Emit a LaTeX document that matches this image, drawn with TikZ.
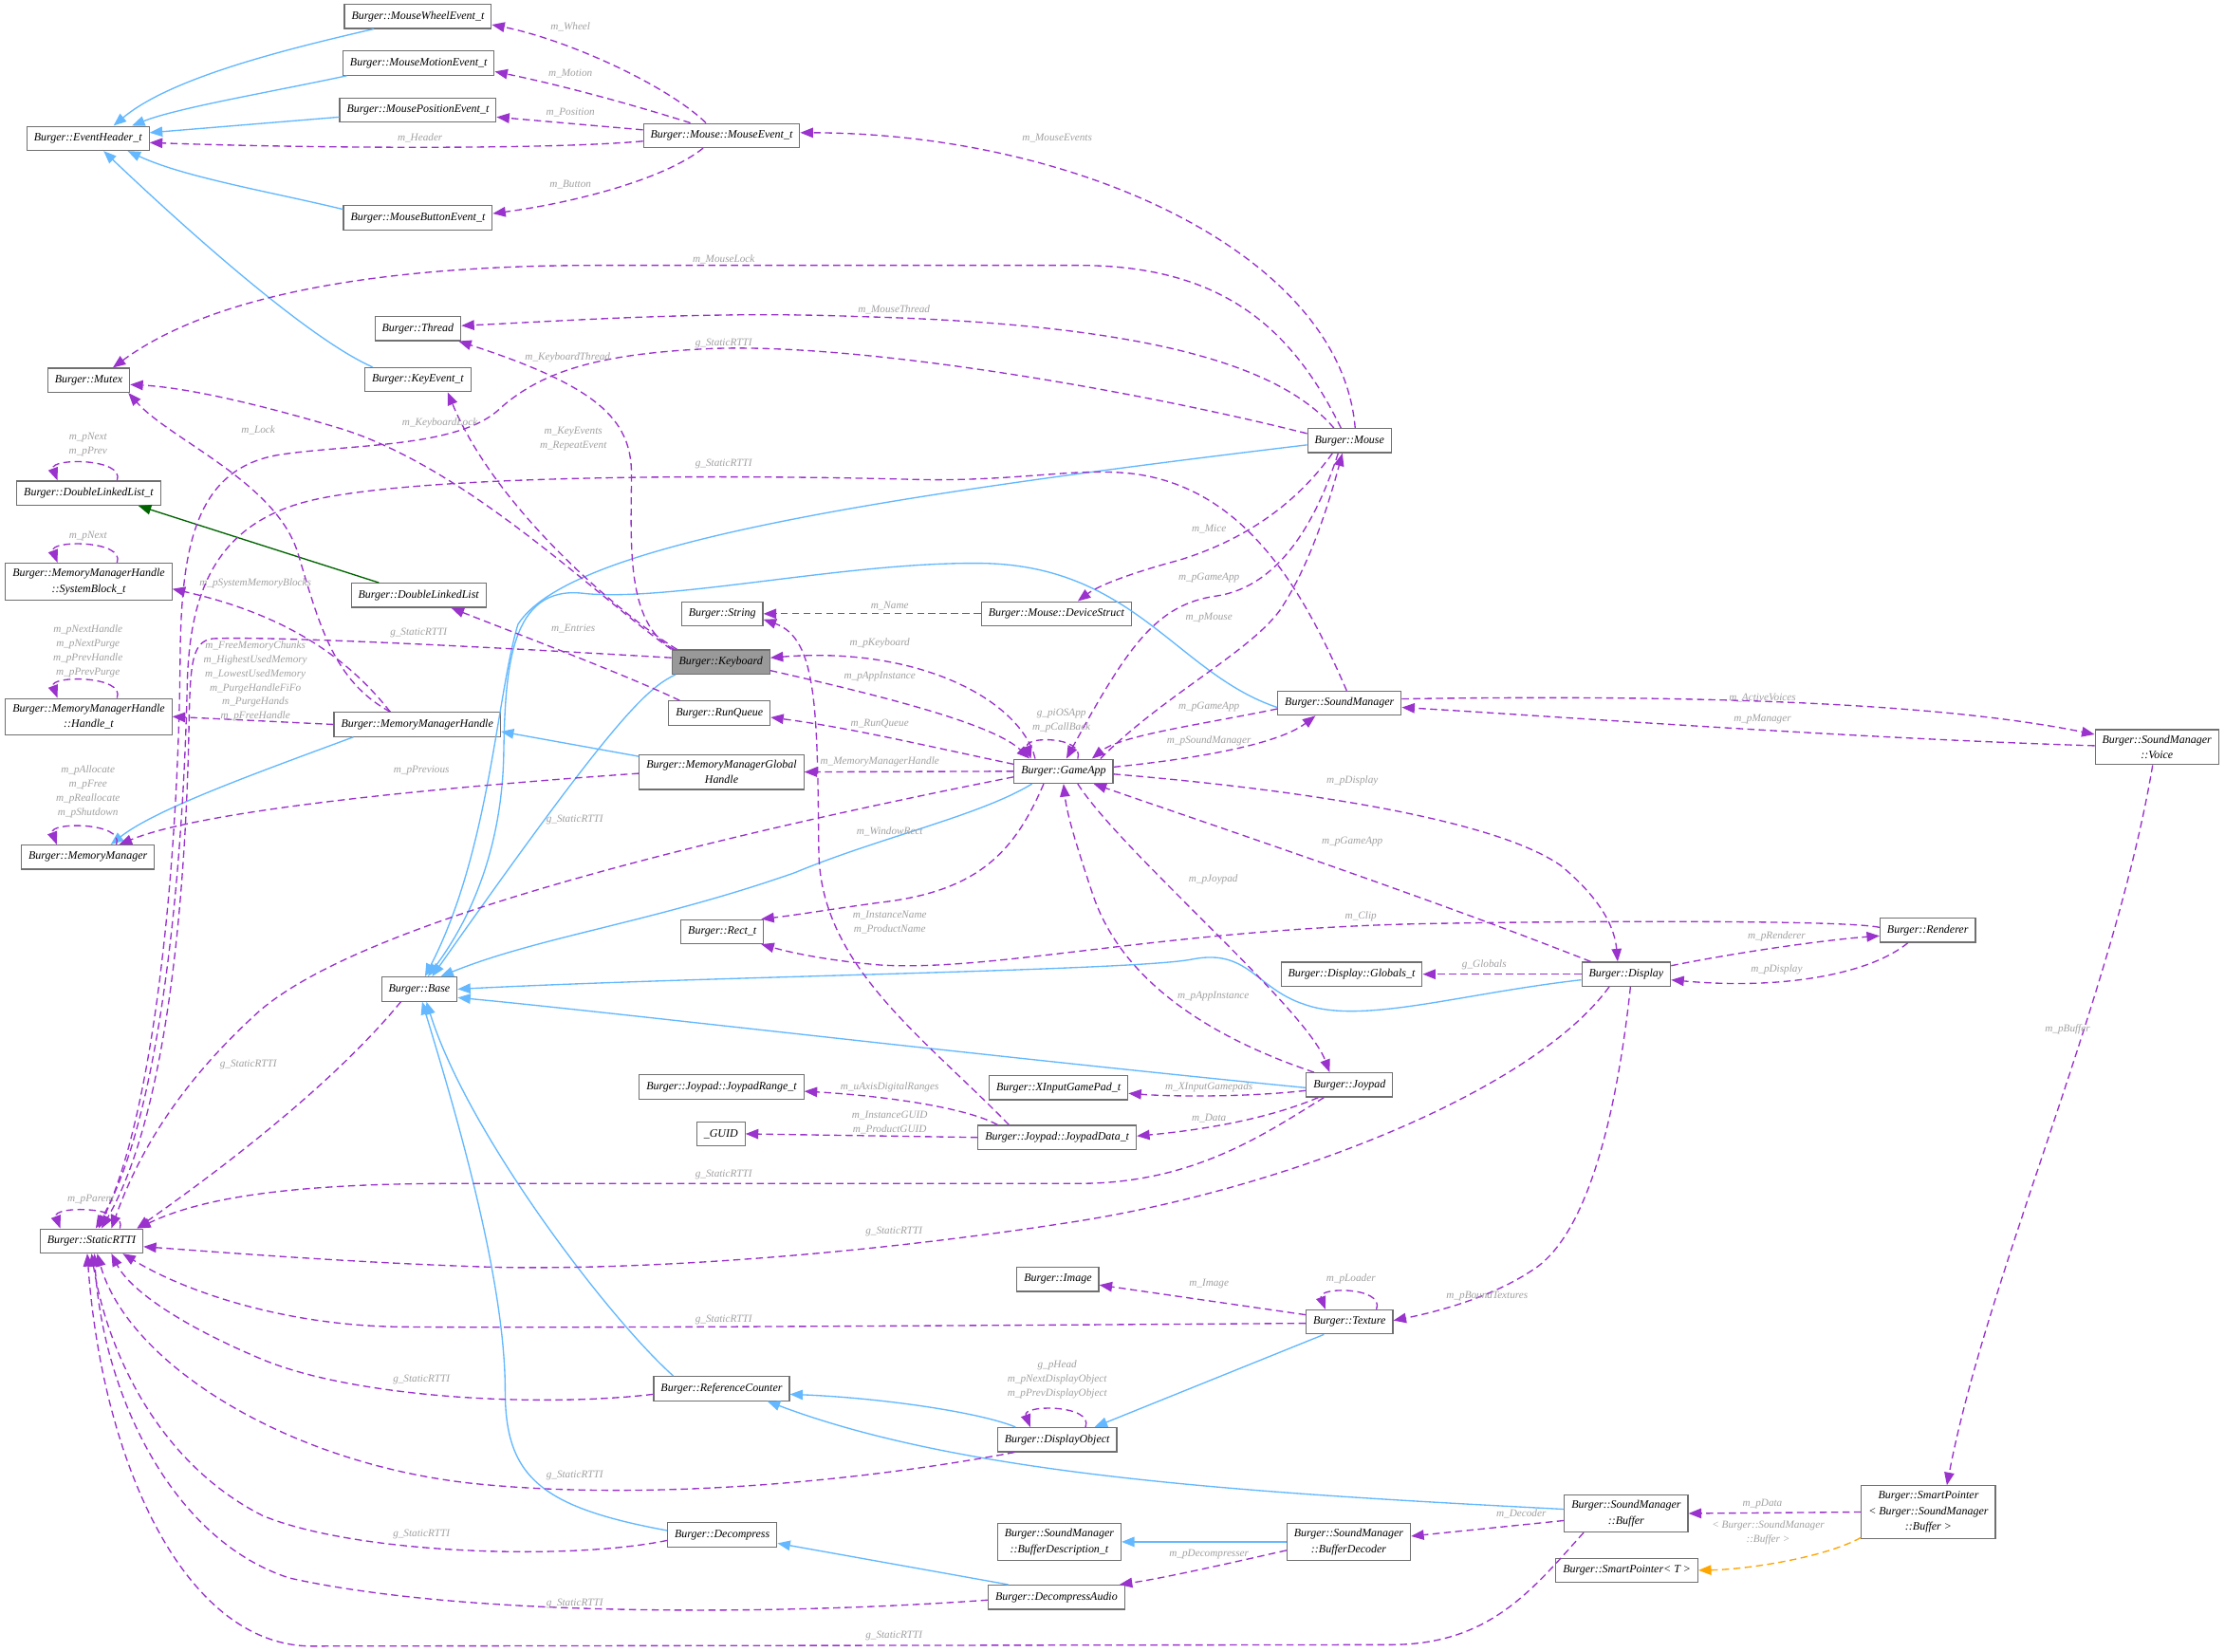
\documentclass[tikz,border=0pt]{standalone}
\usepackage{fontspec}
\newfontfamily\dxfont{Liberation Serif}
\usetikzlibrary{arrows.meta}

\definecolor{depcol}{HTML}{9A32CD}
\definecolor{inhcol}{HTML}{63B8FF}
\definecolor{tplcol}{HTML}{FFA500}
\definecolor{pubcol}{HTML}{006400}
\definecolor{boxgray}{HTML}{707070}
\definecolor{kbgray}{HTML}{999999}
\definecolor{lblgray}{HTML}{A0A0A0}
\newcommand{\clsfont}{\dxfont\itshape\fontsize{8}{11}\selectfont}
\newcommand{\edgefont}{\dxfont\itshape\fontsize{7.5}{10}\selectfont}

\tikzset{
  cls/.style={draw=boxgray, line width=0.8pt, fill=white, font=\clsfont,
    inner xsep=5pt, inner ysep=4pt, minimum height=17pt, align=center},
  dep/.style={draw=depcol, line width=0.9pt, dash pattern=on 5pt off 3pt,
    -{Triangle[length=9pt,width=7pt]}},
  inh/.style={draw=inhcol, line width=0.9pt, -{Triangle[length=9pt,width=7pt]}},
  pub/.style={draw=pubcol, line width=0.9pt, -{Triangle[length=9pt,width=7pt]}},
  tpl/.style={draw=tplcol, line width=0.9pt, dash pattern=on 5pt off 3pt,
    -{Triangle[length=9pt,width=7pt]}},
  lbl/.style={text=lblgray, font=\edgefont, align=center, inner sep=0pt},
}

\begin{document}
\begin{tikzpicture}[x=1pt, y=-1pt]
\useasboundingbox (0,0) rectangle (1568,1164);

% classes
\node[cls] (evh) at (62,97.5) {Burger::EventHeader\_t};
\node[cls] (mwe) at (294.5,11.5) {Burger::MouseWheelEvent\_t};
\node[cls] (mme) at (295,44.5) {Burger::MouseMotionEvent\_t};
\node[cls] (mpe) at (294.5,77.5) {Burger::MousePositionEvent\_t};
\node[cls] (mbe) at (294.5,153.5) {Burger::MouseButtonEvent\_t};
\node[cls] (mev) at (508.5,95.5) {Burger::Mouse::MouseEvent\_t};
\node[cls] (thread) at (294.5,231.5) {Burger::Thread};
\node[cls] (mutex) at (62.5,268) {Burger::Mutex};
\node[cls] (keyev) at (294.5,267.5) {Burger::KeyEvent\_t};
\node[cls] (dllt) at (62.5,347.5) {Burger::DoubleLinkedList\_t};
\node[cls] (sysblk) at (62.5,410) {Burger::MemoryManagerHandle\\::SystemBlock\_t};
\node[cls] (dll) at (295,419.5) {Burger::DoubleLinkedList};
\node[cls] (handle) at (62.5,505) {Burger::MemoryManagerHandle\\::Handle\_t};
\node[cls] (mmh) at (294,510.5) {Burger::MemoryManagerHandle};
\node[cls] (mm) at (62,604) {Burger::MemoryManager};
\node[cls] (string) at (509,432.5) {Burger::String};
\node[cls, fill=kbgray] (keyboard) at (508,466.5) {Burger::Keyboard};
\node[cls] (runq) at (507,502.5) {Burger::RunQueue};
\node[cls] (mmgh) at (508.5,544) {Burger::MemoryManagerGlobal\\Handle};
\node[cls] (devs) at (744.5,432.5) {Burger::Mouse::DeviceStruct};
\node[cls] (gameapp) at (749.5,543.5) {Burger::GameApp};
\node[cls] (mouse) at (951,310.5) {Burger::Mouse};
\node[cls] (sound) at (944,495.5) {Burger::SoundManager};
\node[cls] (voice) at (1520,526.5) {Burger::SoundManager\\::Voice};
\node[cls] (rect) at (509,656.5) {Burger::Rect\_t};
\node[cls] (base) at (295.5,697) {Burger::Base};
\node[cls] (globals) at (952.5,686.5) {Burger::Display::Globals\_t};
\node[cls] (display) at (1146,686.5) {Burger::Display};
\node[cls] (renderer) at (1358.5,655.5) {Burger::Renderer};
\node[cls] (jrange) at (508.5,766) {Burger::Joypad::JoypadRange\_t};
\node[cls] (xinput) at (746,766.5) {Burger::XInputGamePad\_t};
\node[cls] (joypad) at (951,764.5) {Burger::Joypad};
\node[cls] (guid) at (508,799) {\_GUID};
\node[cls] (jdata) at (745,801.5) {Burger::Joypad::JoypadData\_t};
\node[cls] (rtti) at (64.5,874.5) {Burger::StaticRTTI};
\node[cls] (image) at (745.5,901.5) {Burger::Image};
\node[cls] (texture) at (951,931.5) {Burger::Texture};
\node[cls] (refc) at (508.5,978.5) {Burger::ReferenceCounter};
\node[cls] (dispobj) at (745,1014.5) {Burger::DisplayObject};
\node[cls] (buffer) at (1146,1066.5) {Burger::SoundManager\\::Buffer};
\node[cls] (sptr) at (1359,1065.5) {Burger::SmartPointer\\< Burger::SoundManager\\::Buffer >};
\node[cls] (bufdesc) at (746.5,1086.5) {Burger::SoundManager\\::BufferDescription\_t};
\node[cls] (bufdec) at (950.5,1086.5) {Burger::SoundManager\\::BufferDecoder};
\node[cls] (decomp) at (509,1081.5) {Burger::Decompress};
\node[cls] (decaudio) at (744.5,1125.5) {Burger::DecompressAudio};
\node[cls] (sptrt) at (1146.5,1106.5) {Burger::SmartPointer< T >};

% base classes
\draw[inh] ([xshift=-31pt]mwe.south) .. controls (200,35) and (120,55) .. ([xshift=18pt]evh.north);
\draw[inh] ([xshift=3pt]mme.south west) .. controls (190,65) and (125,76) .. ([xshift=31pt]evh.north);
\draw[inh] ([yshift=-5pt]mpe.west) -- ([yshift=4pt]evh.east);
\draw[inh] ([yshift=6pt]mbe.west) .. controls (190,135) and (130,125) .. ([xshift=28pt]evh.south);
\draw[inh] ([xshift=-32pt]keyev.north) .. controls (220,240) and (140,170) .. ([xshift=11pt]evh.south);
\draw[pub] ([xshift=-28pt]dll.north) -- ([xshift=35pt]dllt.south);
\draw[inh] ([yshift=11pt]mmgh.west) -- ([yshift=-5pt]mmh.east);
\draw[inh] ([xshift=-45pt]mmh.south) .. controls (180,545) and (110,570) .. ([xshift=16pt]mm.north);
\draw[inh] ([yshift=-3pt]mouse.west) .. controls (600,352) and (400,385) .. (365,440) .. controls (350,490) and (345,600) .. ([xshift=4pt]base.north);
\draw[inh] ([yshift=-3pt]sound.west) .. controls (830,475) and (800,400) .. (695,397) .. controls (600,395) and (470,425) .. (410,418) .. controls (360,413) and (356,470) .. (355,530) .. controls (354,600) and (330,650) .. ([xshift=6pt]base.north);
\draw[inh] ([xshift=3pt]keyboard.south west) .. controls (455,485) and (430,510) .. ([xshift=9pt]base.north);
\draw[inh] ([xshift=13pt]gameapp.south west) .. controls (690,575) and (620,590) .. (560,615) .. controls (460,650) and (380,660) .. ([xshift=-12pt]base.north east);
\draw[inh] ([yshift=-4pt]display.west) .. controls (1030,700) and (960,722) .. (920,708) .. controls (885,697) and (880,668) .. (840,676) .. controls (800,684) and (500,688) .. (base.east);
\draw[inh] ([yshift=-2pt]joypad.west) .. controls (700,745) and (420,712) .. ([yshift=-6pt]base.east);
\draw[inh] ([xshift=-34pt]refc.north) .. controls (430,930) and (330,800) .. ([xshift=5pt]base.south);
\draw[inh] ([yshift=3pt]decomp.west) .. controls (380,1062) and (356,1040) .. (356,980) .. controls (356,900) and (320,780) .. ([xshift=2pt]base.south);
\draw[inh] ([xshift=-18pt]texture.south) -- ([xshift=-16pt]dispobj.north east);
\draw[inh] ([xshift=13pt]dispobj.north west) .. controls (690,995) and (620,985) .. ([yshift=-4pt]refc.east);
\draw[inh] ([yshift=3pt]buffer.west) .. controls (880,1052) and (680,1040) .. ([xshift=-16pt]refc.south east);
\draw[inh] ([xshift=-34pt]decaudio.north) -- ([yshift=-6pt]decomp.east);
\draw[inh] (bufdec.west) -- (bufdesc.east);
\draw[tpl] ([yshift=-18pt]sptr.west) .. controls (1285,1098) and (1230,1106) .. (sptrt.east);
\node[lbl] (lTpl) at (1246,1080) {< Burger::SoundManager\\::Buffer >};

% mouse events
\draw[dep] ([xshift=-11pt]mev.north) .. controls (470,60) and (400,28) .. ([yshift=3pt]mwe.south east);
\draw[dep] ([xshift=-22pt]mev.north) .. controls (440,72) and (395,60) .. ([yshift=3pt]mme.south east);
\draw[dep] ([yshift=4pt]mev.west) -- ([yshift=-5pt]mpe.east);
\draw[dep] ([yshift=-4pt]mev.west) .. controls (380,106) and (200,104) .. ([yshift=-3pt]evh.east);
\draw[dep] ([xshift=-13pt]mev.south) .. controls (470,125) and (410,142) .. ([yshift=3pt]mbe.east);
\node[lbl] (lWheel) at (402,19) {m\_Wheel};
\node[lbl] (lMotion) at (402,52) {m\_Motion};
\node[lbl] (lPosition) at (402,79) {m\_Position};
\node[lbl] (lHeader) at (296,97) {m\_Header};
\node[lbl] (lButton) at (402,130) {m\_Button};

% mouse
\draw[dep] ([xshift=4pt]mouse.north) .. controls (945,180) and (760,94) .. ([yshift=2pt]mev.east);
\draw[dep] ([xshift=-6pt]mouse.north) .. controls (910,230) and (860,187) .. (760,187) -- (420,187) .. controls (300,187) and (160,200) .. ([xshift=17pt]mutex.north);
\draw[dep] ([xshift=-11pt]mouse.north) .. controls (900,255) and (800,228) .. (603,223) .. controls (500,219) and (400,226) .. ([yshift=2pt]thread.east);
\draw[dep] ([yshift=5pt]mouse.west) .. controls (800,275) and (600,240) .. (494,246) .. controls (420,250) and (380,262) .. (350,290) .. controls (320,315) and (250,313) .. (200,320) .. controls (140,328) and (128,380) .. (127,460) .. controls (126,600) and (110,780) .. ([xshift=5pt]rtti.north);
\draw[dep] ([xshift=-12pt]mouse.south) .. controls (910,360) and (870,383) .. (830,395) .. controls (800,403) and (775,412) .. ([xshift=15pt]devs.north);
\draw[dep] ([xshift=-8pt]mouse.south) .. controls (930,360) and (905,413) .. (857,420) .. controls (815,426) and (795,455) .. ([xshift=2pt]gameapp.north);
\draw[dep] ([xshift=26pt]gameapp.north) .. controls (820,490) and (880,460) .. (902,430) .. controls (922,400) and (935,360) .. ([xshift=-5pt]mouse.south);
\draw[dep] (devs.west) -- (string.east);
\node[lbl] (lMouseEvents) at (745,97) {m\_MouseEvents};
\node[lbl] (lMouseLock) at (510,183) {m\_MouseLock};
\node[lbl] (lMouseThread) at (630,218) {m\_MouseThread};
\node[lbl] (lRttiMouse) at (510,242) {g\_StaticRTTI};
\node[lbl] (lMice) at (852,373) {m\_Mice};
\node[lbl] (lMouseApp) at (852,407) {m\_pGameApp};
\node[lbl] (lpMouse) at (852,435) {m\_pMouse};
\node[lbl] (lName) at (627,427) {m\_Name};

% keyboard
\draw[dep] ([xshift=4pt]keyboard.north west) .. controls (440,435) and (350,360) .. ([xshift=21pt]keyev.south);
\draw[dep] ([xshift=2pt]keyboard.north west) .. controls (440,440) and (445,380) .. (445,334) .. controls (445,295) and (420,272) .. ([xshift=-2pt]thread.south east);
\draw[dep] (keyboard.north west) .. controls (420,420) and (330,330) .. (240,302) .. controls (180,284) and (130,273) .. ([yshift=-3pt]mutex.east);
\draw[dep] ([yshift=3pt]keyboard.west) .. controls (380,458) and (200,448) .. (150,450) .. controls (134,452) and (134,470) .. (133,520) .. controls (130,650) and (115,790) .. ([xshift=7pt]rtti.north);
\draw[dep] ([xshift=-20pt]gameapp.north) .. controls (720,495) and (650,455) .. ([yshift=3pt]keyboard.east);
\draw[dep] ([yshift=-6pt]keyboard.east) .. controls (620,490) and (700,510) .. ([xshift=-24pt]gameapp.north);
\node[lbl] (lKbThread) at (400,252) {m\_KeyboardThread};
\node[lbl] (lKbLock) at (310,298) {m\_KeyboardLock};
\node[lbl] (lKeyEvents) at (404,309) {m\_KeyEvents\\m\_RepeatEvent};
\node[lbl] (lRttiKb) at (295,446) {g\_StaticRTTI};
\node[lbl] (lKeyboard) at (620,453) {m\_pKeyboard};
\node[lbl] (lKbApp) at (620,477) {m\_pAppInstance};

% memory
\draw[dep] ([xshift=-19pt]mmh.north) .. controls (235,480) and (225,440) .. (210,390) .. controls (195,340) and (120,310) .. ([xshift=28pt]mutex.south);
\draw[dep] ([xshift=-28pt]runq.north) .. controls (440,475) and (360,445) .. ([xshift=23pt]dll.south);
\draw[dep] ([xshift=-19pt]mmh.north) .. controls (250,470) and (210,435) .. ([yshift=-5pt]sysblk.east);
\draw[dep] (mmh.west) -- (handle.east);
\draw[dep] ([yshift=-1pt]mmgh.west) .. controls (350,552) and (150,568) .. ([xshift=22pt]mm.north);
\draw[dep] ([xshift=20pt]dllt.north) .. controls +(6,-16) and +(-6,-16) .. ([xshift=-22pt]dllt.north);
\draw[dep] ([xshift=20pt]sysblk.north) .. controls +(6,-16) and +(-6,-16) .. ([xshift=-22pt]sysblk.north);
\draw[dep] ([xshift=20pt]handle.north) .. controls +(6,-16) and +(-6,-16) .. ([xshift=-22pt]handle.north);
\draw[dep] ([xshift=20pt]mm.north) .. controls +(6,-16) and +(-6,-16) .. ([xshift=-22pt]mm.north);
\node[lbl] (lLock) at (182,303) {m\_Lock};
\node[lbl] (lEntries) at (404,443) {m\_Entries};
\node[lbl] (lSysBlocks) at (180,411) {m\_pSystemMemoryBlocks};
\node[lbl] (lChunks) at (180,480) {m\_FreeMemoryChunks\\m\_HighestUsedMemory\\m\_LowestUsedMemory\\m\_PurgeHandleFiFo\\m\_PurgeHands\\m\_pFreeHandle};
\node[lbl] (lPrevious) at (297,543) {m\_pPrevious};
\node[lbl] (lDllt) at (62,313) {m\_pNext\\m\_pPrev};
\node[lbl] (lSysNext) at (62,378) {m\_pNext};
\node[lbl] (lHandle) at (62,459) {m\_pNextHandle\\m\_pNextPurge\\m\_pPrevHandle\\m\_pPrevPurge};
\node[lbl] (lMM) at (62,558) {m\_pAllocate\\m\_pFree\\m\_pReallocate\\m\_pShutdown};

% game app
\draw[dep] ([xshift=10pt]gameapp.north) .. controls +(5,-16) and +(-5,-16) .. ([xshift=-23pt]gameapp.north);
\draw[dep] ([yshift=5pt]gameapp.west) .. controls (650,525) and (600,513) .. ([yshift=-3pt]runq.east);
\draw[dep] (gameapp.west) -- (mmgh.east);
\draw[dep] ([yshift=3pt]gameapp.east) .. controls (840,535) and (900,525) .. ([xshift=-17pt]sound.south);
\draw[dep] ([yshift=-4pt]sound.west) .. controls (850,510) and (790,518) .. ([xshift=20pt]gameapp.north);
\draw[dep] ([xshift=-14pt]gameapp.south) .. controls (715,600) and (690,628) .. (620,636) .. controls (590,640) and (560,645) .. ([xshift=-2pt]rect.north east);
\draw[dep] ([yshift=-2pt]gameapp.east) .. controls (900,555) and (1050,575) .. (1100,610) .. controls (1130,635) and (1138,655) .. ([xshift=-6pt]display.north);
\draw[dep] ([xshift=-25pt]display.north) .. controls (1000,630) and (850,580) .. ([xshift=-14pt]gameapp.south east);
\draw[dep] ([xshift=10pt]gameapp.south) .. controls (790,600) and (920,710) .. ([xshift=-14pt]joypad.north);
\draw[dep] ([xshift=-25pt]joypad.north) .. controls (850,730) and (790,690) .. (770,630) .. controls (760,600) and (752,575) .. (gameapp.south);
\node[lbl] (lIOSApp) at (748,508) {g\_piOSApp\\m\_pCallBack};
\node[lbl] (lRunQueue) at (620,510) {m\_RunQueue};
\node[lbl] (lMMHandle) at (620,537) {m\_MemoryManagerHandle};
\node[lbl] (lSoundApp) at (852,498) {m\_pGameApp};
\node[lbl] (lSoundMgr) at (852,522) {m\_pSoundManager};
\node[lbl] (lWindowRect) at (627,586) {m\_WindowRect};
\node[lbl] (lpDisplay) at (953,550) {m\_pDisplay};
\node[lbl] (lDispApp) at (953,593) {m\_pGameApp};
\node[lbl] (lJoypad) at (855,620) {m\_pJoypad};
\node[lbl] (lJoyApp) at (855,702) {m\_pAppInstance};

% sound
\draw[dep] ([yshift=3pt]sound.east) .. controls (1150,490) and (1350,492) .. ([yshift=9pt]voice.west);
\draw[dep] ([yshift=1pt]voice.west) .. controls (1300,520) and (1100,505) .. ([yshift=-3pt]sound.east);
\draw[dep] ([xshift=-3pt]voice.south) .. controls (1490,700) and (1400,900) .. ([xshift=13pt]sptr.north);
\draw[dep] (sptr.west) -- (buffer.east);
\draw[dep] ([yshift=-5pt]buffer.west) -- ([yshift=4pt]bufdec.east);
\draw[dep] ([yshift=-6pt]bufdec.west) .. controls (860,1103) and (820,1112) .. ([xshift=-4pt]decaudio.north east);
\draw[dep] ([xshift=5pt]sound.north) .. controls (920,420) and (880,345) .. (800,334) .. controls (760,329) and (720,339) .. (650,338) .. controls (500,334) and (300,335) .. (222,352) .. controls (150,368) and (134,420) .. (132,480) .. controls (129,620) and (112,790) .. ([xshift=3pt]rtti.north);
\node[lbl] (lRttiSound) at (510,327) {g\_StaticRTTI};
\node[lbl] (lVoices) at (1242,492) {m\_ActiveVoices};
\node[lbl] (lManager) at (1242,507) {m\_pManager};
\node[lbl] (lBuffer) at (1457,725) {m\_pBuffer};
\node[lbl] (lData) at (1242,1060) {m\_pData};
\node[lbl] (lDecoder) at (1072,1067) {m\_Decoder};
\node[lbl] (lDecompresser) at (852,1095) {m\_pDecompresser};

% display
\draw[dep] ([yshift=2pt]renderer.west) .. controls (1300,648) and (1100,649) .. (1000,651) .. controls (820,655) and (700,685) .. (620,680) .. controls (585,677) and (560,672) .. ([xshift=-2pt]rect.south east);
\draw[dep] (display.west) -- (globals.east);
\draw[dep] ([yshift=6pt]display.east) .. controls (1230,670) and (1290,662) .. ([yshift=-4pt]renderer.west);
\draw[dep] ([xshift=-14pt]renderer.south) .. controls (1320,685) and (1260,698) .. ([yshift=-4pt]display.east);
\draw[dep] ([xshift=3pt]display.south) .. controls (1140,780) and (1120,870) .. (1080,895) .. controls (1050,915) and (1010,925) .. ([yshift=1pt]texture.east);
\draw[dep] ([yshift=5pt]texture.west) -- ([yshift=-4pt]image.east);
\draw[dep] ([xshift=19pt]texture.north) .. controls +(6,-16) and +(-6,-16) .. ([xshift=-17pt]texture.north);
\draw[dep] ([xshift=20pt]dispobj.north) .. controls +(6,-16) and +(-6,-16) .. ([xshift=-19pt]dispobj.north);
\node[lbl] (lClip) at (959,646) {m\_Clip};
\node[lbl] (lGlobals) at (1046,680) {g\_Globals};
\node[lbl] (lRenderer) at (1252,660) {m\_pRenderer};
\node[lbl] (lRendDisp) at (1252,683) {m\_pDisplay};
\node[lbl] (lTextures) at (1048,913) {m\_pBoundTextures};
\node[lbl] (lLoader) at (952,901) {m\_pLoader};
\node[lbl] (lImage) at (852,905) {m\_Image};
\node[lbl] (lDispObj) at (745,972) {g\_pHead\\m\_pNextDisplayObject\\m\_pPrevDisplayObject};

% joypad
\draw[dep] ([xshift=-34pt]jdata.north) .. controls (650,730) and (578,680) .. (577,600) .. controls (576,500) and (576,450) .. ([yshift=-4pt]string.east);
\draw[dep] ([yshift=-4pt]joypad.west) .. controls (880,773) and (830,773) .. ([yshift=-4pt]xinput.east);
\draw[dep] ([xshift=-22pt]joypad.south) .. controls (890,790) and (840,797) .. ([yshift=1pt]jdata.east);
\draw[dep] ([xshift=-42pt]jdata.north) .. controls (680,780) and (620,772) .. ([yshift=-3pt]jrange.east);
\draw[dep] (jdata.west) -- (guid.east);
\node[lbl] (lInstName) at (627,650) {m\_InstanceName\\m\_ProductName};
\node[lbl] (lXInput) at (852,766) {m\_XInputGamepads};
\node[lbl] (lJData) at (852,788) {m\_Data};
\node[lbl] (lRanges) at (627,766) {m\_uAxisDigitalRanges};
\node[lbl] (lGuid) at (627,791) {m\_InstanceGUID\\m\_ProductGUID};

% static rtti
\draw[dep] ([yshift=-4pt]gameapp.west) .. controls (500,590) and (250,650) .. (180,715) .. controls (120,770) and (95,820) .. ([xshift=14pt]rtti.north);
\draw[dep] ([xshift=-13pt]base.south) .. controls (230,770) and (140,835) .. ([xshift=32pt]rtti.north);
\draw[dep] ([xshift=-18pt]joypad.south) .. controls (890,800) and (840,834) .. (760,834) -- (320,834) .. controls (200,834) and (140,845) .. ([xshift=-4pt]rtti.north east);
\draw[dep] ([xshift=-12pt]display.south) .. controls (1080,770) and (900,840) .. (750,862) .. controls (600,885) and (450,895) .. (350,893) .. controls (250,890) and (150,882) .. ([yshift=-4pt]rtti.east);
\draw[dep] ([yshift=-1pt]texture.west) .. controls (700,934) and (400,936) .. (282,935) .. controls (200,934) and (130,910) .. ([xshift=22pt]rtti.south);
\draw[dep] ([yshift=-4pt]refc.west) .. controls (380,992) and (250,985) .. (185,958) .. controls (130,935) and (92,910) .. ([xshift=14pt]rtti.south);
\draw[dep] ([xshift=-30pt]dispobj.south) .. controls (600,1045) and (450,1058) .. (330,1045) .. controls (200,1030) and (90,960) .. ([xshift=4pt]rtti.south);
\draw[dep] ([yshift=-4pt]decomp.west) .. controls (400,1100) and (250,1095) .. (185,1068) .. controls (110,1030) and (75,950) .. (rtti.south);
\draw[dep] ([yshift=-2pt]decaudio.west) .. controls (550,1138) and (330,1140) .. (204,1112) .. controls (120,1085) and (72,980) .. ([xshift=2pt]rtti.south);
\draw[dep] ([xshift=-30pt]buffer.south) .. controls (1080,1120) and (1050,1159) .. (980,1159) -- (220,1160) .. controls (130,1160) and (72,1030) .. ([xshift=-3pt]rtti.south);
\draw[dep] ([xshift=20pt]rtti.north) .. controls +(6,-16) and +(-6,-16) .. ([xshift=-22pt]rtti.north);
\node[lbl] (lRttiApp) at (405,578) {g\_StaticRTTI};
\node[lbl] (lRttiBase) at (175,750) {g\_StaticRTTI};
\node[lbl] (lRttiJoy) at (510,828) {g\_StaticRTTI};
\node[lbl] (lParent) at (64,845) {m\_pParent};
\node[lbl] (lRttiDisp) at (630,868) {g\_StaticRTTI};
\node[lbl] (lRttiTex) at (510,930) {g\_StaticRTTI};
\node[lbl] (lRttiRef) at (297,972) {g\_StaticRTTI};
\node[lbl] (lRttiObj) at (405,1040) {g\_StaticRTTI};
\node[lbl] (lRttiDec) at (297,1081) {g\_StaticRTTI};
\node[lbl] (lRttiAudio) at (405,1130) {g\_StaticRTTI};
\node[lbl] (lRttiBuf) at (630,1153) {g\_StaticRTTI};
\end{tikzpicture}
\end{document}
